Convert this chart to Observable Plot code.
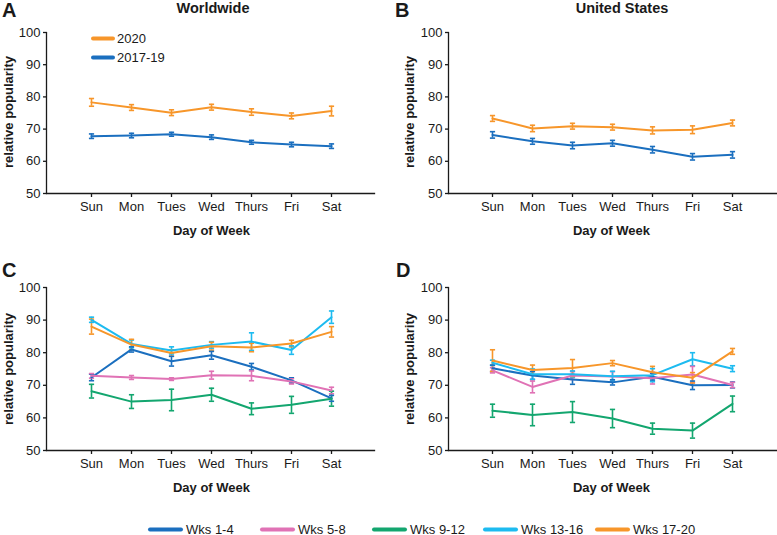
<!DOCTYPE html>
<html><head><meta charset="utf-8">
<script src="https://cdn.jsdelivr.net/npm/d3@7"></script>
<script src="https://cdn.jsdelivr.net/npm/@observablehq/plot@0.6"></script>
<style>
body{margin:0;background:#fff;font-family:"Liberation Sans",Arial,sans-serif;color:#1a1a1a;}
#root{position:relative;width:777px;height:535px;overflow:hidden;background:#fff;}
#root svg{position:absolute;overflow:visible;}
.t{position:absolute;white-space:nowrap;transform:translate(-50%,-50%);line-height:1;}
.letter{position:absolute;font-weight:bold;font-size:20px;line-height:1;transform:translateY(-50%);}
.title{font-weight:bold;font-size:14.5px;}
.axt{font-weight:bold;font-size:13px;}
.leg{position:absolute;display:flex;align-items:center;font-size:13px;transform:translateY(-50%);white-space:nowrap;}
.leg span.sw{display:inline-block;width:35px;height:4px;border-radius:2px;margin-right:3px;}
</style></head><body><div id="root"></div>
<script>
const days = ["Sun","Mon","Tues","Wed","Thurs","Fri","Sat"];
const yTicks = [50,60,70,80,90,100];

// Panel A – Worldwide
const yearNames = ["2020","2017-19"];
const yearColors = ["#f7962a","#1b6fbf"];
const ww2020 = [78.3,76.7,75.1,76.8,75.3,74.1,75.6];
const ww2020Err = [1.2,0.9,0.9,0.9,1.0,0.9,1.5];
const ww1719 = [67.8,68.0,68.4,67.5,65.9,65.2,64.7];
const ww1719Err = [0.7,0.7,0.6,0.7,0.6,0.7,0.7];

// Panel B – United States
const us2020 = [73.3,70.2,70.9,70.6,69.6,69.8,71.9];
const us2020Err = [0.9,1.0,0.9,0.9,1.1,1.2,0.9];
const us1719 = [68.2,66.2,64.9,65.6,63.6,61.4,62.0];
const us1719Err = [1.0,0.9,1.0,0.9,1.0,1.0,1.0];

// Panel C / D – by weeks
const weekNames = ["Wks 1-4","Wks 5-8","Wks 9-12","Wks 13-16","Wks 17-20"];
const weekColors = ["#1b6fbf","#e072b5","#13a66f","#1dbbf0","#f7962a"];
const wwWk1_4 = [72.4,81.0,77.4,79.2,75.7,71.5,66.0];
const wwWk1_4Err = [1.0,0.8,1.5,1.2,1.0,0.8,0.9];
const wwWk5_8 = [72.9,72.4,71.9,73.1,72.9,71.2,68.4];
const wwWk5_8Err = [0.7,0.6,0.4,1.2,1.5,0.8,1.0];
const wwWk9_12 = [68.2,65.0,65.5,67.1,62.8,64.0,65.9];
const wwWk9_12Err = [2.1,2.1,3.3,2.0,1.8,2.6,2.3];
const wwWk13_16 = [90.1,82.7,80.7,82.4,83.4,80.8,90.9];
const wwWk13_16Err = [0.8,1.2,1.1,1.0,2.7,1.3,1.9];
const wwWk17_20 = [88.0,82.5,79.9,82.0,81.6,82.8,86.4];
const wwWk17_20Err = [2.3,1.6,1.0,1.2,1.3,1.0,1.6];

const usWk1_4 = [75.2,73.0,71.8,70.9,72.6,70.0,70.1];
const usWk1_4Err = [1.0,1.2,1.5,0.8,1.0,1.3,0.9];
const usWk5_8 = [74.6,69.5,73.0,72.7,72.2,73.3,70.1];
const usWk5_8Err = [0.8,1.8,1.2,1.5,1.8,2.5,0.8];
const usWk9_12 = [62.2,60.9,61.8,59.8,56.7,56.1,64.3];
const usWk9_12Err = [2.0,3.3,3.2,2.8,1.7,2.3,2.4];
const usWk13_16 = [76.9,73.4,73.4,72.8,73.1,78.0,75.1];
const usWk13_16Err = [0.8,1.6,1.0,1.5,2.0,2.0,0.9];
const usWk17_20 = [77.6,74.7,75.3,76.8,74.0,72.3,80.4];
const usWk17_20Err = [3.3,1.5,2.6,0.8,1.8,1.6,0.9];

function rowsFor(names, values, errs) {
  const rows = [];
  names.forEach((n, s) => days.forEach((d, i) => rows.push({
    series: n, day: d, value: values[s][i], lo: values[s][i] - errs[s][i], hi: values[s][i] + errs[s][i]
  })));
  return rows;
}

const cap = {draw(ctx, size) { const w = Math.sqrt(size / Math.PI); ctx.moveTo(-w, 0); ctx.lineTo(w, 0); }};

const root = document.getElementById("root");

function panel({rows, names, colors, left, top, width, height, ml, mr, mt, mb, xr}) {
  const ink = "#1a1a1a";
  const svg = Plot.plot({
    width, height, marginLeft: ml, marginRight: mr, marginTop: mt, marginBottom: mb,
    x: {type: "point", domain: days, range: xr},
    y: {domain: [50, 100]},
    color: {domain: names, range: colors},
    style: {fontFamily: "'Liberation Sans', Arial, sans-serif", fontSize: "13px", color: ink, background: "transparent", overflow: "visible"},
    marks: [
      Plot.frame({anchor: "left", stroke: ink, strokeWidth: 1.3}),
      Plot.frame({anchor: "bottom", stroke: ink, strokeWidth: 1.3}),
      Plot.axisY({ticks: yTicks, tickSize: 3, tickPadding: 3, label: null, fontSize: 13, strokeWidth: 1.3}),
      Plot.axisX({tickSize: 4, tickPadding: 4, label: null, fontSize: 13, strokeWidth: 1.3}),
      Plot.ruleX(rows, {x: "day", y1: "lo", y2: "hi", stroke: "series", strokeWidth: 1.6}),
      Plot.dot(rows, {x: "day", y: "lo", symbol: cap, r: 2.6, stroke: "series", strokeWidth: 1.6, fill: "none"}),
      Plot.dot(rows, {x: "day", y: "hi", symbol: cap, r: 2.6, stroke: "series", strokeWidth: 1.6, fill: "none"}),
      Plot.line(rows, {x: "day", y: "value", z: "series", stroke: "series", strokeWidth: 2})
    ]
  });
  svg.style.left = left + "px";
  svg.style.top = top + "px";
  root.appendChild(svg);
}

function text(cls, str, x, y, extra) {
  const d = document.createElement("div");
  d.className = cls;
  d.textContent = str;
  d.style.left = x + "px";
  d.style.top = y + "px";
  if (extra) d.style.transform = extra;
  root.appendChild(d);
  return d;
}

panel({rows: rowsFor(yearNames, [ww2020, ww1719], [ww2020Err, ww1719Err]), names: yearNames, colors: yearColors,
  left: 0, top: 0, width: 390, height: 240, ml: 46, mr: 16, mt: 32, mb: 47, xr: [71, 351]});
panel({rows: rowsFor(yearNames, [us2020, us1719], [us2020Err, us1719Err]), names: yearNames, colors: yearColors,
  left: 390, top: 0, width: 387, height: 240, ml: 58, mr: 1, mt: 32, mb: 47, xr: [82, 362]});
panel({rows: rowsFor(weekNames, [wwWk1_4, wwWk5_8, wwWk9_12, wwWk13_16, wwWk17_20], [wwWk1_4Err, wwWk5_8Err, wwWk9_12Err, wwWk13_16Err, wwWk17_20Err]),
  names: weekNames, colors: weekColors, left: 0, top: 240, width: 390, height: 240, ml: 46, mr: 16, mt: 47, mb: 30, xr: [71, 351]});
panel({rows: rowsFor(weekNames, [usWk1_4, usWk5_8, usWk9_12, usWk13_16, usWk17_20], [usWk1_4Err, usWk5_8Err, usWk9_12Err, usWk13_16Err, usWk17_20Err]),
  names: weekNames, colors: weekColors, left: 390, top: 240, width: 387, height: 240, ml: 58, mr: 1, mt: 47, mb: 30, xr: [82, 362]});

// panel letters and titles
text("letter", "A", 2, 10);
text("letter", "B", 395, 10);
text("letter", "C", 2, 270);
text("letter", "D", 396, 270);
text("t title", "Worldwide", 213, 8);
text("t title", "United States", 622, 8);

// axis titles
[[211.5, 230], [611.5, 230], [211.5, 487], [611.5, 487]].forEach(([x, y]) => text("t axt", "Day of Week", x, y));
[[8, 112], [409, 112], [8, 369], [409, 369]].forEach(([x, y]) =>
  text("t axt", "relative popularity", x, y, "translate(-50%,-50%) rotate(-90deg)"));

// legend inside panel A
function legendItem(name, color, x, y) {
  const d = document.createElement("div");
  d.className = "leg";
  d.style.left = x + "px";
  d.style.top = y + "px";
  const sw = document.createElement("span");
  sw.className = "sw";
  sw.style.background = color;
  d.appendChild(sw);
  d.appendChild(document.createTextNode(name));
  root.appendChild(d);
}
const legA = document.createElement("div");
yearNames.forEach((n, i) => {
  legendItem(n, yearColors[i], 91, [38, 57][i]);
});
root.querySelectorAll(".leg").forEach(el => { el.firstChild.style.width = "24px"; el.firstChild.style.marginRight = "2px"; });

// bottom legend
const legLefts = [148, 260, 372, 483, 595];
weekNames.forEach((n, i) => legendItem(n, weekColors[i], legLefts[i], 529));
</script>
</body></html>
